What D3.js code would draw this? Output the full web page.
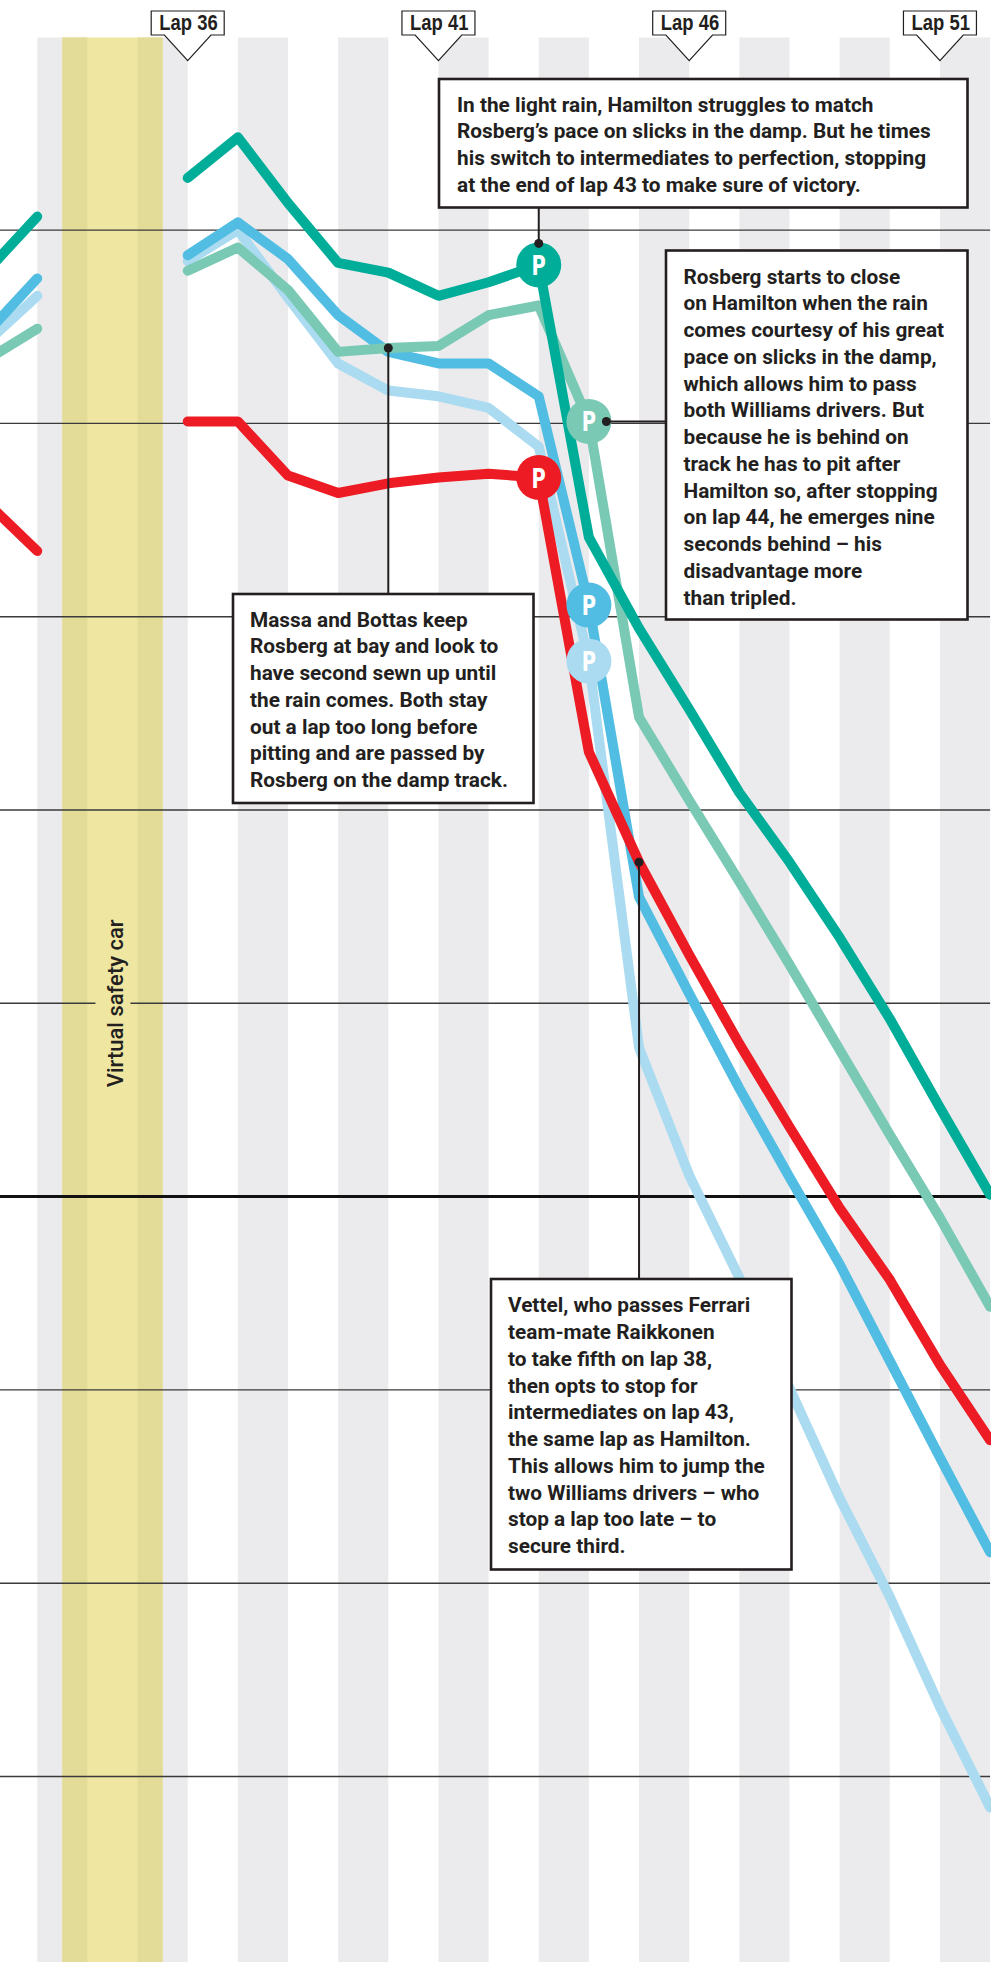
<!DOCTYPE html>
<html>
<head>
<meta charset="utf-8">
<script src="https://cdn.jsdelivr.net/npm/d3@7"></script>
<style>
  html, body { margin: 0; padding: 0; background: #ffffff; }
  svg { display: block; }
</style>
</head>
<body>
<div id="chart"></div>
<script>
// ---------------- DATA ----------------
const laps = [32, 33, 34, 35, 36, 37, 38, 39, 40, 41, 42, 43, 44, 45, 46, 47, 48, 49, 50, 51, 52];
// gap (seconds, relative scale) – null = no data during virtual safety car
const hamilton = [47.9, 50.7, null, null, 52.7, 54.8, 51.4, 48.3, 47.8, 46.6, 47.3, 48.2, 34.1, 29.4, 25.2, 20.9, 17.3, 13.4, 9.2, 4.6, 0.1];
const rosberg  = [43.3, 44.9, null, null, 47.9, 49.1, 46.9, 43.7, 43.9, 44.0, 45.6, 46.1, 40.1, 24.8, 20.5, 16.3, 12.0, 7.6, 3.2, -1.1, -5.7];
const massa    = [44.7, 47.5, null, null, 48.7, 50.4, 48.5, 45.6, 43.7, 43.1, 43.1, 41.4, 30.6, 15.5, 10.5, 5.6, 1.0, -3.5, -8.5, -13.5, -18.4];
const bottas   = [44.2, 46.6, null, null, 48.4, 50.0, 46.5, 43.1, 41.7, 41.4, 40.8, 38.8, 27.7, 7.7, 1.1, -4.2, -9.9, -15.6, -20.7, -26.4, -31.6];
const vettel   = [35.9, 33.4, null, null, 40.1, 40.1, 37.3, 36.4, 36.9, 37.2, 37.4, 37.2, 23.0, 17.3, 12.5, 7.9, 3.6, -0.6, -4.3, -8.7, -12.6];

const drivers = ["Bottas", "Massa", "Vettel", "Rosberg", "Hamilton"];
const driverColors = ["#abdbf0", "#52bde3", "#ed1c24", "#79c9b5", "#00ad98"];
const driverSeries = [bottas, massa, vettel, rosberg, hamilton];

const pitDrivers = ["Hamilton", "Rosberg", "Vettel", "Massa", "Bottas"];
const pitLaps = [43, 44, 43, 44, 44];

const lapTicks = [36, 41, 46, 51];
const lapTickLabels = ["Lap 36", "Lap 41", "Lap 46", "Lap 51"];
const stripeStarts = [33, 35, 37, 39, 41, 43, 45, 47, 49, 51];
const vscLaps = [33.5, 35.5];
const vscLabel = "Virtual safety car";
const gridValues = [50, 40, 30, 20, 10, 0, -10, -20, -30];

const note1 = ["In the light rain, Hamilton struggles to match",
  "Rosberg\u2019s pace on slicks in the damp. But he times",
  "his switch to intermediates to perfection, stopping",
  "at the end of lap 43 to make sure of victory."];
const note2 = ["Rosberg starts to close", "on Hamilton when the rain", "comes courtesy of his great",
  "pace on slicks in the damp,", "which allows him to pass", "both Williams drivers. But",
  "because he is behind on", "track he has to pit after", "Hamilton so, after stopping",
  "on lap 44, he emerges nine", "seconds behind \u2013 his", "disadvantage more", "than tripled."];
const note3 = ["Massa and Bottas keep", "Rosberg at bay and look to", "have second sewn up until",
  "the rain comes. Both stay", "out a lap too long before", "pitting and are passed by",
  "Rosberg on the damp track."];
const note4 = ["Vettel, who passes Ferrari", "team-mate Raikkonen", "to take fifth on lap 38,",
  "then opts to stop for", "intermediates on lap 43,", "the same lap as Hamilton.",
  "This allows him to jump the", "two Williams drivers \u2013 who", "stop a lap too late \u2013 to",
  "secure third."];

// ---------------- LAYOUT ----------------
const W = 991, H = 1962;
const x = d3.scaleLinear().domain([36, 52]).range([187.7, 990.1]);
const y = d3.scaleLinear().domain([0, 10]).range([1196.6, 1003.3]);
const stripeTop = 37.5;
const ink = "#231f20";
const textFont = "Roboto, 'Liberation Sans', Arial, sans-serif";

const svg = d3.select("#chart").append("svg").attr("width", W).attr("height", H);

// stripes
svg.append("g").selectAll("rect").data(stripeStarts).join("rect")
  .attr("x", d => x(d)).attr("y", stripeTop)
  .attr("width", d => x(d + 1) - x(d)).attr("height", H - stripeTop)
  .attr("fill", "#ebebed");

// virtual safety car band
const vg = svg.append("g");
vg.append("rect").attr("x", x(vscLaps[0])).attr("y", stripeTop)
  .attr("width", x(vscLaps[1]) - x(vscLaps[0])).attr("height", H - stripeTop)
  .attr("fill", "#efe6a1");
stripeStarts.forEach(s => {
  const a = Math.max(s, vscLaps[0]), b = Math.min(s + 1, vscLaps[1]);
  if (b > a) {
    vg.append("rect").attr("x", x(a)).attr("y", stripeTop)
      .attr("width", x(b) - x(a)).attr("height", H - stripeTop).attr("fill", "#e3dc99");
  }
});

// gridlines
const vscMid = (x(vscLaps[0]) + x(vscLaps[1])) / 2;
svg.append("g").selectAll("line").data(gridValues).join("line")
  .attr("x1", 0).attr("x2", x(52))
  .attr("y1", d => y(d)).attr("y2", d => y(d))
  .attr("stroke", d => d === 0 ? "#111" : "#3a3a3a")
  .attr("stroke-width", d => d === 0 ? 3 : 1.4);
// gap in gridline behind VSC label
svg.append("rect").attr("x", vscMid - 17).attr("y", y(10) - 3).attr("width", 35).attr("height", 6)
  .attr("fill", "#efe6a1");
svg.append("text")
  .attr("transform", `translate(${vscMid + 10.5},${y(10)}) rotate(-90)`)
  .attr("text-anchor", "middle")
  .attr("font-family", textFont).attr("font-weight", 500).attr("font-size", 22)
  .attr("fill", ink).text(vscLabel);

// lines
const line = d3.line()
  .defined(d => d.v !== null)
  .x(d => x(d.lap)).y(d => y(d.v));
svg.append("g").selectAll("path").data(driverSeries).join("path")
  .attr("d", s => line(laps.map((l, i) => ({ lap: l, v: s[i] }))))
  .attr("fill", "none")
  .attr("stroke", (s, i) => driverColors[i])
  .attr("stroke-width", 10)
  .attr("stroke-linecap", "round")
  .attr("stroke-linejoin", "round");

// pit stop markers
const pitR = 22.5;
function valueAt(driver, lap) {
  const s = driverSeries[drivers.indexOf(driver)];
  return s[laps.indexOf(lap)];
}
const pg = svg.append("g");
pitDrivers.forEach((d, i) => {
  const cx = x(pitLaps[i]), cy = y(valueAt(d, pitLaps[i]));
  pg.append("circle").attr("cx", cx).attr("cy", cy).attr("r", pitR)
    .attr("fill", driverColors[drivers.indexOf(d)]);
  pg.append("text").attr("transform", `translate(${cx},${cy + 10}) scale(0.72,1)`)
    .attr("text-anchor", "middle")
    .attr("font-family", "'DejaVu Sans', 'Liberation Sans', sans-serif")
    .attr("font-weight", 700).attr("font-size", 27).attr("fill", "#fff").text("P");
});

// annotations
const ag = svg.append("g");
function connector(x1, y1, x2, y2) {
  ag.append("line").attr("x1", x1).attr("y1", y1).attr("x2", x2).attr("y2", y2)
    .attr("stroke", ink).attr("stroke-width", 2);
  ag.append("circle").attr("cx", x1).attr("cy", y1).attr("r", 4.5).attr("fill", ink);
}
function box(x0, y0, x1, y1, tx, ty, lines) {
  ag.append("rect").attr("x", x0).attr("y", y0).attr("width", x1 - x0).attr("height", y1 - y0)
    .attr("fill", "#fff").attr("stroke", ink).attr("stroke-width", 2.6);
  const t = ag.append("text").attr("font-family", textFont).attr("font-weight", 700)
    .attr("font-size", 20.8).attr("fill", ink);
  lines.forEach((l, i) => t.append("tspan").attr("x", tx).attr("y", ty + i * 26.75).text(l));
}
// Hamilton note
const hx = x(43), hy = y(valueAt("Hamilton", 43));
connector(hx, hy - pitR + 1, hx, 207);
box(439, 79, 967.5, 207.5, 457, 111.5, note1);
// Rosberg note
const rx = x(44), ry = y(valueAt("Rosberg", 44));
connector(rx + 17.5, ry, 666, ry);
box(666, 250.5, 967.5, 619.5, 683.5, 283.6, note2);
// Massa / Bottas note
const mx = x(40), my = y(valueAt("Rosberg", 40));
connector(mx, my, mx, 594);
box(233, 594, 533.5, 803, 250, 626.7, note3);
// Vettel note
const vx = x(45), vy = y(valueAt("Vettel", 45));
connector(vx, vy, vx, 1279);
box(491, 1279, 791.5, 1569.5, 508, 1312.3, note4);

// lap labels
const lg = svg.append("g");
lapTicks.forEach((l, i) => {
  const cx = x(l), bw = 73, top = 11, bot = 35, tipY = 60.7, hw = 23.3;
  const p = `M${cx - bw / 2},${top} H${cx + bw / 2} V${bot} H${cx + hw} L${cx},${tipY} L${cx - hw},${bot} H${cx - bw / 2} Z`;
  lg.append("path").attr("d", p).attr("fill", "#fff").attr("stroke", ink).attr("stroke-width", 1.2);
  lg.append("text").attr("transform", `translate(${cx + 0.8},30) scale(0.9,1.1)`).attr("text-anchor", "middle")
    .attr("font-family", "'Liberation Sans', Arial, sans-serif").attr("font-weight", 700)
    .attr("font-size", 20.5).attr("fill", ink).text(lapTickLabels[i]);
});
</script>
</body>
</html>
